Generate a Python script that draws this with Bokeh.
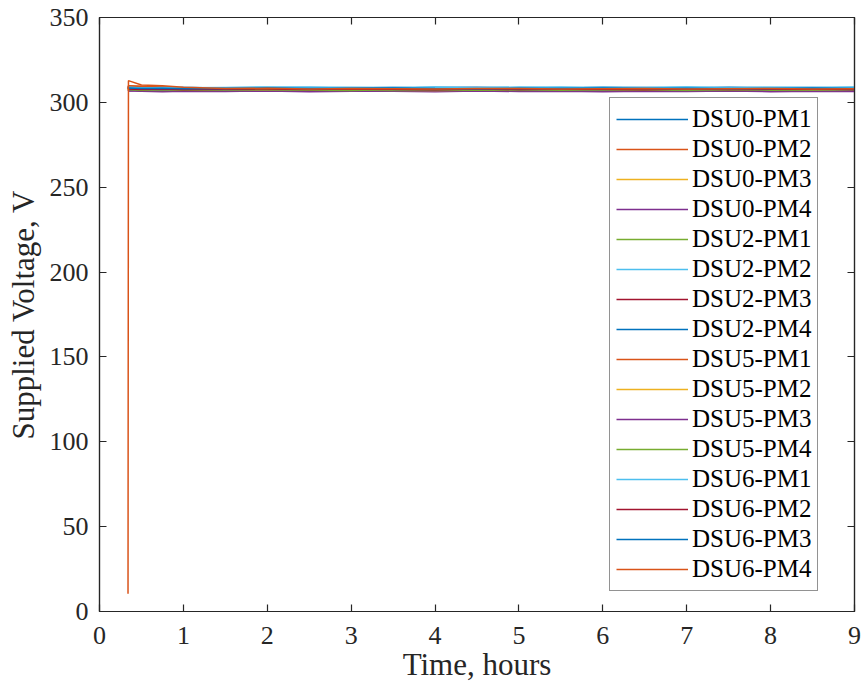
from bokeh.plotting import figure
from bokeh.models import Range1d, FixedTicker, LinearAxis, Legend, LegendItem
from bokeh.embed import file_html
from bokeh.resources import INLINE

# time in hours
times = [0.34, 0.345, 0.5, 0.75, 1.0, 1.5, 2.0, 2.5, 3.0, 3.5, 4.0, 4.5, 5.0,
         5.5, 6.0, 6.5, 7.0, 7.5, 8.0, 8.5, 9.0]

series_names = ["DSU0-PM1", "DSU0-PM2", "DSU0-PM3", "DSU0-PM4",
                "DSU2-PM1", "DSU2-PM2", "DSU2-PM3", "DSU2-PM4",
                "DSU5-PM1", "DSU5-PM2", "DSU5-PM3", "DSU5-PM4",
                "DSU6-PM1", "DSU6-PM2", "DSU6-PM3", "DSU6-PM4"]

dsu0_pm1 = [308.5, 308.6, 308.4, 308.7, 308.5, 308.3, 308.6, 308.8, 308.4, 308.5, 308.7, 308.9, 308.6, 308.4, 308.8, 308.7, 308.5, 308.9, 308.6, 308.7, 308.5]
dsu0_pm2 = [308.2, 309.6, 309.3, 309.1, 308.4, 308.0, 308.2, 307.9, 308.1, 308.3, 307.8, 308.0, 308.2, 308.1, 307.9, 308.0, 308.3, 308.1, 307.8, 308.0, 308.2]
dsu0_pm3 = [307.5, 307.8, 307.6, 307.4, 307.7, 307.3, 307.6, 307.5, 307.2, 307.6, 307.4, 307.7, 307.5, 307.3, 307.6, 307.4, 307.5, 307.8, 307.4, 307.6, 307.5]
dsu0_pm4 = [306.6, 306.8, 306.5, 306.3, 306.6, 306.4, 306.7, 306.2, 306.5, 306.6, 306.3, 306.7, 306.4, 306.5, 306.2, 306.6, 306.4, 306.7, 306.3, 306.5, 306.4]
dsu2_pm1 = [307.1, 307.3, 307.0, 306.9, 307.2, 307.0, 306.8, 307.1, 307.3, 306.9, 307.0, 307.2, 306.9, 307.1, 307.0, 307.3, 306.8, 307.0, 307.2, 306.9, 307.1]
dsu2_pm2 = [308.8, 309.0, 308.7, 308.9, 308.6, 308.8, 309.1, 308.7, 308.9, 308.8, 309.0, 308.6, 308.9, 309.1, 308.7, 308.8, 309.0, 308.7, 308.9, 308.8, 309.0]
dsu2_pm3 = [307.6, 307.9, 307.5, 307.7, 307.4, 307.6, 307.8, 307.5, 307.7, 307.4, 307.6, 307.9, 307.5, 307.7, 307.6, 307.4, 307.8, 307.6, 307.5, 307.7, 307.6]
dsu2_pm4 = [308.4, 308.6, 308.3, 308.5, 308.7, 308.4, 308.2, 308.6, 308.5, 308.8, 308.4, 308.6, 308.3, 308.5, 308.7, 308.4, 308.6, 308.5, 308.3, 308.6, 308.4]
dsu5_pm1 = [307.9, 309.8, 309.5, 309.0, 308.3, 307.9, 308.1, 307.8, 308.0, 307.7, 308.1, 307.9, 307.8, 308.0, 308.2, 307.8, 307.9, 308.1, 307.9, 307.7, 308.0]
dsu5_pm2 = [307.2, 307.5, 307.1, 307.3, 307.0, 307.2, 307.4, 307.1, 307.3, 307.2, 306.9, 307.3, 307.1, 307.4, 307.2, 307.0, 307.3, 307.2, 307.4, 307.1, 307.2]
dsu5_pm3 = [306.8, 307.0, 306.7, 306.9, 306.6, 306.8, 306.5, 306.9, 306.7, 306.8, 307.0, 306.6, 306.8, 306.7, 306.9, 306.5, 306.8, 306.7, 306.9, 306.6, 306.8]
dsu5_pm4 = [307.3, 307.5, 307.2, 307.4, 307.1, 307.3, 307.5, 307.2, 307.0, 307.4, 307.3, 307.1, 307.4, 307.2, 307.5, 307.3, 307.1, 307.4, 307.2, 307.3, 307.4]
dsu6_pm1 = [308.6, 308.9, 308.5, 308.7, 308.8, 308.5, 308.7, 308.9, 308.6, 308.4, 308.8, 308.6, 308.9, 308.5, 308.7, 308.6, 308.9, 308.5, 308.8, 308.6, 308.7]
dsu6_pm2 = [307.7, 307.9, 307.6, 307.8, 307.5, 307.7, 307.9, 307.6, 307.8, 307.7, 307.5, 307.8, 307.6, 307.9, 307.7, 307.5, 307.8, 307.6, 307.7, 307.9, 307.6]
dsu6_pm3 = [308.2, 308.4, 308.1, 308.3, 308.0, 308.2, 308.4, 308.1, 308.3, 308.5, 308.2, 308.0, 308.3, 308.1, 308.4, 308.2, 308.3, 308.0, 308.2, 308.4, 308.1]
dsu6_pm4 = [10.5, 312.8, 310.2, 309.8, 308.9, 308.1, 308.3, 307.9, 308.2, 308.0, 307.8, 308.1, 308.2, 307.9, 308.0, 308.1, 307.8, 308.0, 308.2, 307.9, 308.0]

all_series = [dsu0_pm1, dsu0_pm2, dsu0_pm3, dsu0_pm4,
              dsu2_pm1, dsu2_pm2, dsu2_pm3, dsu2_pm4,
              dsu5_pm1, dsu5_pm2, dsu5_pm3, dsu5_pm4,
              dsu6_pm1, dsu6_pm2, dsu6_pm3, dsu6_pm4]

x_ticks = [0, 1, 2, 3, 4, 5, 6, 7, 8, 9]
y_ticks = [0, 50, 100, 150, 200, 250, 300, 350]

palette = ["#0072BD", "#D95319", "#EDB120", "#7E2F8E", "#77AC30", "#4DBEEE", "#A2142F"]

FONT = "Liberation Serif"
AX = "#262626"

p = figure(width=862, height=693, output_backend="svg", toolbar_location=None,
           x_range=Range1d(0, 9), y_range=Range1d(0, 350),
           min_border_left=99, min_border_right=8, min_border_top=17, min_border_bottom=82)
p.grid.visible = False
p.outline_line_color = AX
p.outline_line_width = 1.2
p.background_fill_color = "white"
p.border_fill_color = "white"

def style_axis(ax, ticks, labels=True):
    ax.ticker = FixedTicker(ticks=ticks)
    ax.major_tick_in = 7
    ax.major_tick_out = 0
    ax.minor_tick_line_color = None
    ax.axis_line_color = AX
    ax.axis_line_width = 1.2
    ax.major_tick_line_color = AX
    ax.major_tick_line_width = 1.2
    if labels:
        ax.major_label_text_font = FONT
        ax.major_label_text_font_size = "26px"
        ax.major_label_text_color = AX
    else:
        ax.major_label_overrides = {t: "" for t in ticks}
        ax.major_label_standoff = 0

xa = p.xaxis[0]
ya = p.yaxis[0]
style_axis(xa, x_ticks)
style_axis(ya, y_ticks)
xa.major_label_standoff = 15
ya.major_label_standoff = 11
xa.axis_label = "Time, hours"
ya.axis_label = "Supplied Voltage, V"
for a in (xa, ya):
    a.axis_label_text_font = FONT
    a.axis_label_text_font_size = "31px"
    a.axis_label_text_font_style = "normal"
    a.axis_label_text_color = AX
xa.axis_label_standoff = 0
ya.axis_label_standoff = 6

top = LinearAxis()
right = LinearAxis()
style_axis(top, x_ticks, labels=False)
style_axis(right, y_ticks, labels=False)
p.add_layout(top, "above")
p.add_layout(right, "right")

items = []
for i, (name, vals) in enumerate(zip(series_names, all_series)):
    r = p.line(times, vals, line_color=palette[i % 7], line_width=1.5)
    items.append(LegendItem(label=name, renderers=[r]))

legend = Legend(items=items, location=(510, 20))
legend.label_text_font = FONT
legend.label_text_font_size = "25px"
legend.label_text_color = "black"
legend.label_height = 30
legend.glyph_height = 30
legend.glyph_width = 72
legend.label_standoff = 4
legend.spacing = 0
legend.padding = 6
legend.margin = 0
legend.border_line_color = AX
legend.border_line_width = 1.2
legend.background_fill_color = "white"
legend.background_fill_alpha = 1
p.add_layout(legend, "center")

open("out.html", "w").write(file_html(p, INLINE))
